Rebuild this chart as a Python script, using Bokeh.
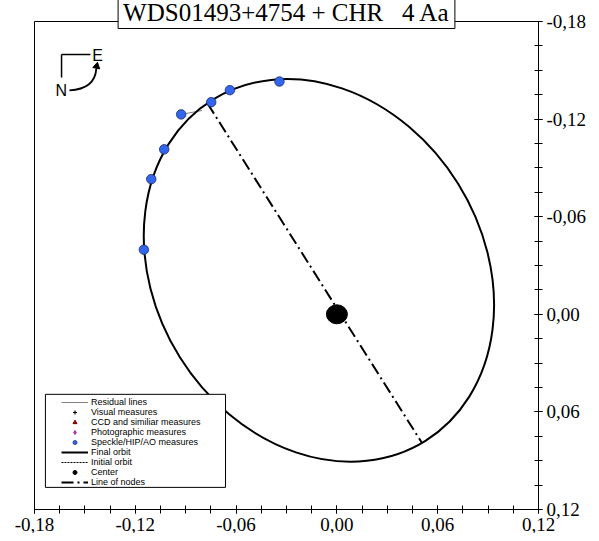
from bokeh.plotting import figure
from bokeh.models import (Range1d, FixedTicker, Title, Legend, LegendItem,
                          BoxAnnotation, ColumnDataSource)
from bokeh.core.properties import value
from bokeh.embed import file_html
from bokeh.resources import INLINE

# ---- data ----
title_text = "WDS01493+4754 + CHR\u00a0\u00a0 4 Aa"

# Speckle/HIP/AO measures (x, y in arcsec)
obs_x = [-0.0342, -0.0637, -0.0748, -0.0927, -0.1028, -0.1105, -0.1149]
obs_y = [-0.1431, -0.1378, -0.1304, -0.1229, -0.1014, -0.0831, -0.0397]
# predicted positions on the orbit (ends of residual lines)
pred_x = [-0.0342, -0.0637, -0.0748, -0.0802, -0.1028, -0.1105, -0.1149]
pred_y = [-0.1431, -0.1378, -0.1304, -0.1253, -0.1014, -0.0831, -0.0397]

# final orbit (apparent ellipse)
orbit_cx = [-0.0107]
orbit_cy = [-0.0270]
orbit_w = [0.1952]
orbit_h = [0.2471]
orbit_angle = [32.0]

# center (primary)
center_x = [0.0]
center_y = [0.0]

# line of nodes
nodes_x = [-0.0770, 0.0504]
nodes_y = [-0.1296, 0.0787]

# ticks
tick_vals = [-0.18, -0.12, -0.06, 0.0, 0.06, 0.12]
tick_labels = ["-0,18", "-0,12", "-0,06", "0,00", "0,06", "0,12"]
minor_vals = [round(-0.18 + 0.015 * i, 3) for i in range(21)]

legend_labels = ["Residual lines", "Visual measures", "CCD and similiar measures",
                 "Photographic measures", "Speckle/HIP/AO measures", "Final orbit",
                 "Initial orbit", "Center", "Line of nodes"]

# ---- figure ----
ttl = Title(text=title_text, align="center", offset=11,
            text_font="Liberation Serif", text_font_size="25px",
            text_font_style="normal", text_color="black",
            border_line_color="black", background_fill_color="white",
            padding=(5, 3), standoff=-14)
p = figure(title=ttl, frame_width=504, frame_height=488,
           min_border_left=34, min_border_top=21, min_border_right=50, min_border_bottom=24,
           x_range=Range1d(-0.18, 0.12), y_range=Range1d(0.12, -0.18),
           y_axis_location="right", output_backend="svg", toolbar_location=None,
           outline_line_color="black", outline_line_width=1,
           background_fill_color="white", border_fill_color="white")
p.xgrid.visible = False
p.ygrid.visible = False

for ax in (p.xaxis[0], p.yaxis[0]):
    ax.ticker = FixedTicker(ticks=tick_vals, minor_ticks=minor_vals)
    ax.major_label_overrides = {v: l for v, l in zip(tick_vals, tick_labels)}
    ax.major_tick_in = 4
    ax.major_tick_out = 4
    ax.minor_tick_in = 4
    ax.minor_tick_out = 4
    ax.axis_line_color = "black"
    ax.major_tick_line_color = "black"
    ax.minor_tick_line_color = "black"
    ax.major_label_text_font = "Liberation Serif"
    ax.major_label_text_font_size = "19px"
    ax.major_label_text_color = "black"
    ax.major_label_standoff = 4

# residual lines
r_res = p.segment(x0=obs_x, y0=obs_y, x1=pred_x, y1=pred_y,
                  line_color="#808080", line_width=1)

# final orbit
p.ellipse(x=orbit_cx, y=orbit_cy, width=orbit_w, height=orbit_h,
          angle=orbit_angle, angle_units="deg",
          fill_color=None, line_color="black", line_width=2)

# line of nodes
r_nodes = p.line(nodes_x, nodes_y, line_color="black", line_width=2,
                 line_dash="12 4 2 4")

# center
p.ellipse(x=center_x, y=center_y, width=21, height=19,
          width_units="screen", height_units="screen",
          fill_color="black", line_color="black")

# measures
r_obs = p.scatter(obs_x, obs_y, marker="circle", size=9.5,
                  fill_color="#3366ee", line_color="#1a2a66", line_width=0.8)

# legend-only renderers (no visible data)
def nan_src():
    return ColumnDataSource(dict(x=[float("nan")], y=[float("nan")]))

r_vis = p.scatter("x", "y", source=nan_src(), marker="cross", size=7,
                  line_color="black", line_width=1.2)
r_ccd = p.scatter("x", "y", source=nan_src(), marker="triangle", size=6,
                  fill_color="#cc0000", line_color="#660000")
r_pho = p.scatter("x", "y", source=nan_src(), marker="diamond", size=7,
                  fill_color="#dd22dd", line_color="#993399")
r_fin = p.line("x", "y", source=nan_src(), line_color="black", line_width=2)
r_ini = p.line("x", "y", source=nan_src(), line_color="black", line_width=1,
               line_dash="2 1")
r_cen = p.scatter("x", "y", source=nan_src(), marker="circle", size=7,
                  fill_color="black", line_color="black")

# compass
p.segment(x0=[-0.1639, -0.1639], y0=[-0.1597, -0.1597],
          x1=[-0.1467, -0.1639], y1=[-0.1597, -0.1456],
          line_color="black", line_width=1.5)
p.quadratic(x0=[-0.1592], y0=[-0.1376], x1=[-0.1432], y1=[-0.1510],
            cx=[-0.1440], cy=[-0.1385], line_color="black", line_width=1.8)
p.scatter(x=[-0.1430], y=[-0.1525], marker="triangle", size=7, angle=-0.2,
          fill_color="black", line_color="black")
p.text(x=[-0.1640, -0.1425], y=[-0.1376, -0.1591], text=["N", "E"],
       text_font=value("Liberation Sans"), text_font_size="16px",
       text_align="center", text_baseline="middle", text_color="black")

# legend box
p.add_layout(BoxAnnotation(left=-0.1735, right=-0.0663, top=0.0492, bottom=0.1064,
                           fill_color="white", fill_alpha=1.0,
                           line_color="black", line_alpha=1.0, line_width=1))

legend = Legend(items=[
    LegendItem(label=legend_labels[0], renderers=[r_res]),
    LegendItem(label=legend_labels[1], renderers=[r_vis]),
    LegendItem(label=legend_labels[2], renderers=[r_ccd]),
    LegendItem(label=legend_labels[3], renderers=[r_pho]),
    LegendItem(label=legend_labels[4], renderers=[r_obs]),
    LegendItem(label=legend_labels[5], renderers=[r_fin]),
    LegendItem(label=legend_labels[6], renderers=[r_ini]),
    LegendItem(label=legend_labels[7], renderers=[r_cen]),
    LegendItem(label=legend_labels[8], renderers=[r_nodes]),
], location=(27, 22), orientation="vertical",
    label_text_font="Liberation Sans", label_text_font_size="9px",
    label_text_color="black",
    glyph_height=10, glyph_width=27, label_height=10, label_standoff=3,
    spacing=0, padding=2, margin=0,
    border_line_color=None, background_fill_alpha=0)
p.add_layout(legend, "center")

open("out.html", "w").write(file_html(p, INLINE))
